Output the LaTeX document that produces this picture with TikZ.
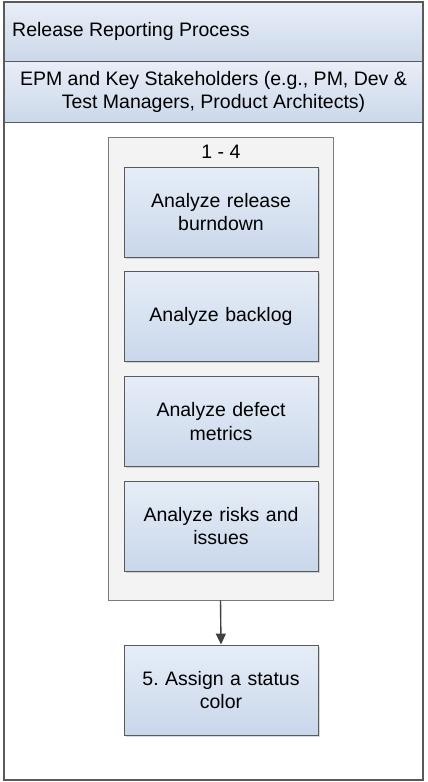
\documentclass[tikz,border=0pt]{standalone}
\usepackage{fontspec}
\setmainfont{Liberation Sans}
\frenchspacing
\usetikzlibrary{shadows,arrows.meta}
\definecolor{bandtop}{HTML}{E9EEF7}
\definecolor{bandbot}{HTML}{CBD8EA}
\definecolor{boxtop}{HTML}{E6EDF7}
\definecolor{boxbot}{HTML}{C9D7EB}
\definecolor{edge}{HTML}{5A5A5A}
\definecolor{arrowc}{HTML}{404040}
\definecolor{grpfill}{HTML}{F3F3F3}
\tikzset{
  band/.style={draw=edge, line width=1pt, top color=bandtop, bottom color=bandbot},
  stepbox/.style={draw=edge, line width=0.9pt, top color=boxtop, bottom color=boxbot,
    minimum width=194pt, minimum height=90pt, text width=180pt, align=center,
    font=\fontsize{19.5}{23.5}\selectfont, inner sep=0pt,
    drop shadow={shadow xshift=1.5pt, shadow yshift=-1.5pt, opacity=0.3}},
  grpbox/.style={draw=edge!80, line width=0.9pt, fill=grpfill,
    minimum width=225pt, minimum height=463pt, inner sep=0pt},
  txt/.style={font=\fontsize{19.5}{23}\selectfont, inner sep=0pt, align=center},
  conn/.style={draw=arrowc, line width=1.4pt, -{Triangle[length=11pt,width=10pt]}}
}
\begin{document}
\begin{tikzpicture}[x=1pt,y=-1pt]
\useasboundingbox (0,0) rectangle (428,782);
% outer frame and bands
\path[band] (4,2) rectangle (423,61);
\path[band] (4,61) rectangle (423,122);
\node[txt, anchor=west] (title) at (12,31) {Release Reporting Process};
\node[txt] (lane) at (213.5,92) {EPM and Key Stakeholders (e.g., PM, Dev \&\\Test Managers, Product Architects)};
\draw[edge, line width=1.3pt] (4,2) rectangle (423,780);
% group
\node[grpbox] (grp) at (220.5,368.5) {};
\node[txt] (grplabel) at (221,152) {1 - 4};
\node[stepbox] (s1) at (221,212) {Analyze release\\burndown};
\node[stepbox] (s2) at (221,316.5) {Analyze backlog};
\node[stepbox] (s3) at (221,421.5) {Analyze defect\\metrics};
\node[stepbox] (s4) at (221,526) {Analyze risks and\\issues};
\node[stepbox] (s5) at (221,690) {5. Assign a status\\color};
\draw[conn] (grp.south) -- (s5.north);
\end{tikzpicture}
\end{document}
